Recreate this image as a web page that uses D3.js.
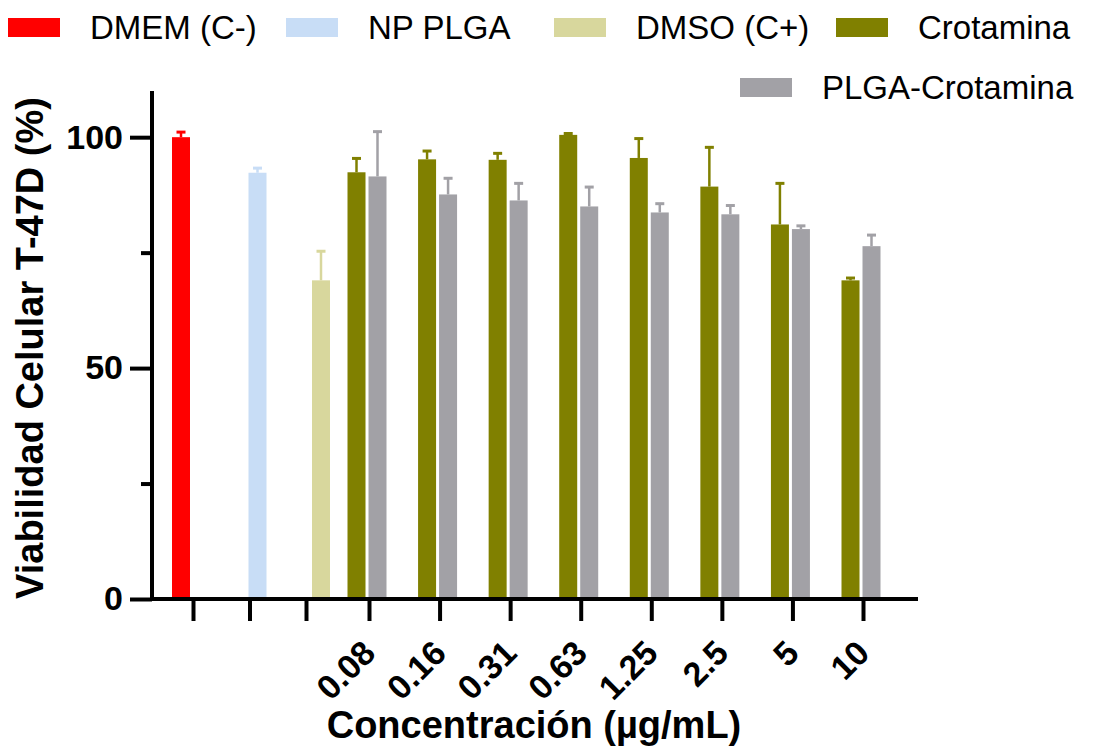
<!DOCTYPE html>
<html>
<head>
<meta charset="utf-8">
<script src="https://cdn.jsdelivr.net/npm/d3@7"></script>
<style>
  html, body { margin: 0; padding: 0; background: #fff; }
  svg { display: block; font-family: "Liberation Sans", Arial, Helvetica, sans-serif; }
</style>
</head>
<body>
<svg id="chart" width="1102" height="746"></svg>
<script>
// ---------- data ----------
const controlCategories = ["DMEM (C-)", "NP PLGA", "DMSO (C+)"];
const controlMeans = [100, 92.3, 69.0];
const controlErrors = [1.1, 1.0, 6.3];

const concentrations = ["0.08", "0.16", "0.31", "0.63", "1.25", "2.5", "5", "10"];
const crotaminaMeans = [92.4, 95.2, 95.1, 100.5, 95.5, 89.3, 81.1, 69.0];
const crotaminaErrors = [3.0, 1.8, 1.4, 0.3, 4.2, 8.5, 8.9, 0.5];
const plgaCrotMeans = [91.5, 87.6, 86.3, 85.0, 83.7, 83.3, 80.1, 76.4];
const plgaCrotErrors = [9.7, 3.5, 3.7, 4.2, 1.9, 1.9, 0.7, 2.4];

const seriesNames = ["DMEM (C-)", "NP PLGA", "DMSO (C+)", "Crotamina", "PLGA-Crotamina"];
const yTicksMajor = [0, 50, 100];
const yTicksMinor = [25, 75];

// ---------- styles / layout ----------
const colors = {
  "DMEM (C-)": "#ff0000",
  "NP PLGA": "#c8ddf6",
  "DMSO (C+)": "#d8d79d",
  "Crotamina": "#808000",
  "PLGA-Crotamina": "#a2a1a6"
};
const barW = 18;
const pairGap = 3;
const controlBarShift = [-12, 8, 15];   // visual offset of single control bars from their ticks
const legendLayout = [
  { name: "DMEM (C-)", x: 90, row: 0 },
  { name: "NP PLGA", x: 368, row: 0 },
  { name: "DMSO (C+)", x: 636, row: 0 },
  { name: "Crotamina", x: 918, row: 0 },
  { name: "PLGA-Crotamina", x: 822, row: 1 }
];

const svg = d3.select("#chart");

const axisX = 152, axisBottom = 599;
const y = d3.scaleLinear().domain([0, 110]).range([axisBottom, 91]);
const xCtrl = d3.scalePoint().domain(controlCategories).range([193, 306]);
const xConc = d3.scalePoint().domain(concentrations).range([369, 863]);

const g = svg.append("g");

// ---------- bars ----------
function errorBar(cx, mean, err, color) {
  g.append("line")
    .attr("x1", cx).attr("x2", cx)
    .attr("y1", y(mean)).attr("y2", y(mean + err))
    .attr("stroke", color).attr("stroke-width", 2.5);
  g.append("line")
    .attr("x1", cx - 4.5).attr("x2", cx + 4.5)
    .attr("y1", y(mean + err)).attr("y2", y(mean + err))
    .attr("stroke", color).attr("stroke-width", 3);
}

controlCategories.forEach((c, i) => {
  const cx = xCtrl(c) + controlBarShift[i];
  errorBar(cx, controlMeans[i], controlErrors[i], colors[c]);
  g.append("rect")
    .attr("x", cx - barW / 2).attr("width", barW)
    .attr("y", y(controlMeans[i])).attr("height", y(0) - y(controlMeans[i]))
    .attr("fill", colors[c]);
});

concentrations.forEach((c, i) => {
  const center = xConc(c) - 2;
  const cxA = center - pairGap / 2 - barW / 2;
  const cxB = center + pairGap / 2 + barW / 2;
  errorBar(cxA, crotaminaMeans[i], crotaminaErrors[i], colors["Crotamina"]);
  g.append("rect")
    .attr("x", cxA - barW / 2).attr("width", barW)
    .attr("y", y(crotaminaMeans[i])).attr("height", y(0) - y(crotaminaMeans[i]))
    .attr("fill", colors["Crotamina"]);
  errorBar(cxB, plgaCrotMeans[i], plgaCrotErrors[i], colors["PLGA-Crotamina"]);
  g.append("rect")
    .attr("x", cxB - barW / 2).attr("width", barW)
    .attr("y", y(plgaCrotMeans[i])).attr("height", y(0) - y(plgaCrotMeans[i]))
    .attr("fill", colors["PLGA-Crotamina"]);
});

// ---------- y axis ----------
const yAxisG = svg.append("g").attr("transform", `translate(${axisX},0)`);
yAxisG.call(d3.axisLeft(y).tickValues(yTicksMajor).tickSize(22).tickPadding(7).tickSizeOuter(0));
yAxisG.select(".domain").remove();
yAxisG.selectAll(".tick line").attr("stroke", "#000").attr("stroke-width", 4);
yAxisG.selectAll(".tick text")
  .attr("font-size", 34).attr("font-weight", "bold").attr("fill", "#000")
  .attr("font-family", "Liberation Sans, Arial, sans-serif");
const yMinorG = svg.append("g").attr("transform", `translate(${axisX},0)`);
yMinorG.call(d3.axisLeft(y).tickValues(yTicksMinor).tickSize(11).tickFormat(""));
yMinorG.select(".domain").remove();
yMinorG.selectAll(".tick line").attr("stroke", "#000").attr("stroke-width", 4);

svg.append("line")
  .attr("x1", axisX).attr("x2", axisX)
  .attr("y1", y(0) + 2).attr("y2", y(110))
  .attr("stroke", "#000").attr("stroke-width", 4);

// ---------- x axis ----------
svg.append("line")
  .attr("x1", axisX - 2).attr("x2", 918)
  .attr("y1", axisBottom).attr("y2", axisBottom)
  .attr("stroke", "#000").attr("stroke-width", 4);

const xCtrlG = svg.append("g").attr("transform", `translate(0,${axisBottom})`);
xCtrlG.call(d3.axisBottom(xCtrl).tickSize(22).tickFormat("").tickSizeOuter(0));
xCtrlG.select(".domain").remove();
xCtrlG.selectAll(".tick line").attr("stroke", "#000").attr("stroke-width", 4);

const xConcG = svg.append("g").attr("transform", `translate(0,${axisBottom})`);
xConcG.call(d3.axisBottom(xConc).tickSize(22).tickSizeOuter(0));
xConcG.select(".domain").remove();
xConcG.selectAll(".tick line").attr("stroke", "#000").attr("stroke-width", 4);
xConcG.selectAll(".tick text")
  .attr("font-size", 34).attr("font-weight", "bold").attr("fill", "#000")
  .attr("font-family", "Liberation Sans, Arial, sans-serif")
  .attr("text-anchor", "end")
  .attr("dy", 0)
  .attr("y", 0)
  .attr("transform", "translate(8,56) rotate(-45)");

// ---------- titles ----------
svg.append("text")
  .attr("x", 534).attr("y", 738)
  .attr("text-anchor", "middle")
  .attr("font-size", 38).attr("font-weight", "bold")
  .text("Concentración (µg/mL)");

svg.append("text")
  .attr("transform", "translate(43,348) rotate(-90)")
  .attr("text-anchor", "middle")
  .attr("font-size", 38).attr("font-weight", "bold")
  .text("Viabilidad Celular T-47D (%)");

// ---------- legend ----------
const rowBaseline = [39, 99];
const leg = svg.append("g");
legendLayout.forEach(d => {
  const base = rowBaseline[d.row];
  leg.append("rect")
    .attr("x", d.x - 82).attr("y", base - 21)
    .attr("width", 52).attr("height", 19)
    .attr("fill", colors[d.name]);
  leg.append("text")
    .attr("x", d.x).attr("y", base)
    .attr("font-size", 33)
    .text(d.name);
});
</script>
</body>
</html>
